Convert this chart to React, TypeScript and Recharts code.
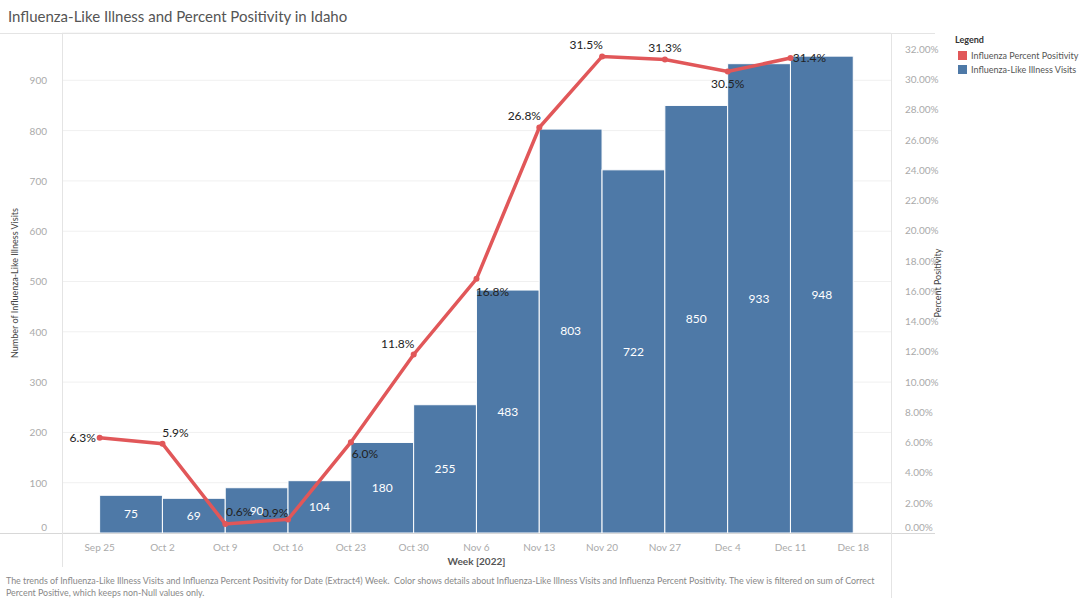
import React from "react";
import {
  ComposedChart,
  Bar,
  Line,
  XAxis,
  YAxis,
  CartesianGrid,
  LabelList,
} from "recharts";

// week start dates (tick labels), one more than the number of weekly bars
const weeks = [
  "Sep 25", "Oct 2", "Oct 9", "Oct 16", "Oct 23", "Oct 30", "Nov 6",
  "Nov 13", "Nov 20", "Nov 27", "Dec 4", "Dec 11", "Dec 18",
];

// ILI visits per week (bars drawn between week ticks)
const visits = [75, 69, 90, 104, 180, 255, 483, 803, 722, 850, 933, 948];

// influenza percent positivity at each week tick
const positivity = [6.3, 5.9, 0.6, 0.9, 6.0, 11.8, 16.8, 26.8, 31.5, 31.3, 30.5, 31.4];

const visitTicks = [0, 100, 200, 300, 400, 500, 600, 700, 800, 900];
const pctTicks = [0, 2, 4, 6, 8, 10, 12, 14, 16, 18, 20, 22, 24, 26, 28, 30, 32];

const BLUE = "#4e79a7";
const RED = "#e15759";
const FONT = "Lato, 'Open Sans', sans-serif";

const W = 1081;
const H = 598;
const MARGIN = { top: 33, right: 130, bottom: 35, left: 0 };
const LEFT_AXIS_W = 62;
const RIGHT_AXIS_W = 60;
const X_MIN = -0.6;
const X_MAX = 12.6;
const PLOT_W = W - MARGIN.left - MARGIN.right - LEFT_AXIS_W - RIGHT_AXIS_W;
// one week of the x scale, in pixels
const WEEK_PX = PLOT_W / (X_MAX - X_MIN);

// bars sit halfway between the week ticks
const barRows = visits.map((v, i) => ({ x: i + 0.5, visits: v }));
const lineRows = positivity.map((p, i) => ({ x: i, pct: p }));

// where each percent label sits relative to its point, so they don't collide
const labelNudge: [number, number][] = [
  [-17, 0], [13, -11], [14, -12], [-13, -7], [14, 11], [-16, -11],
  [16, 13], [-15, -12], [-16, -12], [0, -12], [0, 12], [19, 0],
];

// full-week bar, centred on the position Recharts computed
// eslint-disable-next-line @typescript-eslint/no-explicit-any
function WeekBar(props: any) {
  const { x, y, width, height } = props;
  const cx = x + width / 2;
  return (
    <rect
      x={cx - WEEK_PX / 2}
      y={y}
      width={WEEK_PX}
      height={height}
      fill={BLUE}
      stroke="#fff"
      strokeWidth={1}
    />
  );
}

// eslint-disable-next-line @typescript-eslint/no-explicit-any
function PctDot(props: any) {
  const { cx, cy, payload } = props;
  if (payload?.pct == null || cx == null || cy == null) return <g key={`d-${props.index}`} />;
  const [dx, dy] = labelNudge[payload.x] ?? [0, -12];
  return (
    <g key={`d-${props.index}`}>
      <circle cx={cx} cy={cy} r={3} fill={RED} />
      <text
        x={cx + dx}
        y={cy + dy}
        textAnchor="middle"
        dominantBaseline="central"
        fontSize={12}
        fill="#222"
        fontFamily={FONT}
      >
        {payload.pct.toFixed(1)}%
      </text>
    </g>
  );
}

// eslint-disable-next-line @typescript-eslint/no-explicit-any
function LeftTick({ x, y, payload }: any) {
  const lift = payload.value === 0 ? -6 : 0;
  return (
    <text x={x - 7} y={y + lift} textAnchor="end" dominantBaseline="central" fontSize={10} fill="#aaa" fontFamily={FONT}>
      {payload.value}
    </text>
  );
}

// eslint-disable-next-line @typescript-eslint/no-explicit-any
function RightTick({ x, y, payload }: any) {
  const lift = payload.value === 0 ? -6 : 0;
  return (
    <text x={x + 6} y={y + lift} textAnchor="start" dominantBaseline="central" fontSize={10} fill="#aaa" fontFamily={FONT}>
      {payload.value.toFixed(2)}%
    </text>
  );
}

// eslint-disable-next-line @typescript-eslint/no-explicit-any
function WeekTick({ x, y, payload }: any) {
  return (
    <text x={x} y={y + 6} textAnchor="middle" dominantBaseline="central" fontSize={10} fill="#aaa" fontFamily={FONT}>
      {weeks[payload.value]}
    </text>
  );
}

const line = (style: React.CSSProperties) => (
  <div style={{ position: "absolute", background: "#e4e4e4", ...style }} />
);

export default function App() {
  return (
    <div
      style={{
        position: "absolute",
        left: 0,
        top: 0,
        width: W,
        height: H,
        background: "#fff",
        fontFamily: FONT,
        overflow: "hidden",
      }}
    >
      <div style={{ position: "absolute", left: 8, top: 7, fontSize: 15, color: "#555" }}>
        Influenza-Like Illness and Percent Positivity in Idaho
      </div>

      <div style={{ position: "absolute", left: 0, top: 0 }}>
        <ComposedChart width={W} height={H} data={barRows} margin={MARGIN}>
          <CartesianGrid yAxisId="left" vertical={false} stroke="#f0f0f0" />
          <XAxis
            dataKey="x"
            type="number"
            domain={[X_MIN, X_MAX]}
            ticks={weeks.map((_, i) => i)}
            interval={0}
            height={30}
            axisLine={false}
            tickLine={false}
            tick={<WeekTick />}
          />
          <YAxis
            yAxisId="left"
            orientation="left"
            width={LEFT_AXIS_W}
            domain={[0, 994]}
            ticks={visitTicks}
            axisLine={false}
            tickLine={false}
            tick={<LeftTick />}
            label={{
              value: "Number of Influenza-Like Illness Visits",
              angle: -90,
              position: "insideLeft",
              offset: 15,
              style: { textAnchor: "middle", fontSize: 9, fill: "#444", fontFamily: FONT },
            }}
          />
          <YAxis
            yAxisId="right"
            orientation="right"
            width={RIGHT_AXIS_W}
            domain={[0, 33.05]}
            ticks={pctTicks}
            axisLine={false}
            tickLine={false}
            tick={<RightTick />}
            label={{
              value: "Percent Positivity",
              angle: -90,
              position: "insideRight",
              offset: 13,
              style: { textAnchor: "middle", fontSize: 9, fill: "#444", fontFamily: FONT },
            }}
          />
          <Bar
            yAxisId="left"
            dataKey="visits"
            fill={BLUE}
            shape={<WeekBar />}
            isAnimationActive={false}
          >
            <LabelList dataKey="visits" position="center" fill="#fff" fontSize={12} fontFamily={FONT} />
          </Bar>
          <Line
            yAxisId="right"
            data={lineRows}
            dataKey="pct"
            type="linear"
            stroke={RED}
            strokeWidth={3.5}
            dot={<PctDot />}
            activeDot={false}
            isAnimationActive={false}
          />
        </ComposedChart>
      </div>

      {/* pane frame */}
      {line({ left: 0, top: 33, width: 935, height: 1 })}
      {line({ left: 0, top: 533, width: 935, height: 1, background: "#d8d8d8" })}
      {line({ left: 62, top: 33, width: 1, height: 534 })}
      {line({ left: 891, top: 33, width: 1, height: 565 })}

      <div
        style={{
          position: "absolute",
          left: 62,
          width: 829,
          top: 555,
          textAlign: "center",
          fontSize: 10,
          fontWeight: 700,
          color: "#555",
        }}
      >
        Week [2022]
      </div>

      <div style={{ position: "absolute", left: 955, top: 34, fontSize: 9, color: "#333" }}>
        <div style={{ fontWeight: 700, marginBottom: 3 }}>Legend</div>
        {[
          { name: "Influenza Percent Positivity", color: RED },
          { name: "Influenza-Like Illness Visits", color: BLUE },
        ].map((item) => (
          <div key={item.name} style={{ display: "flex", alignItems: "center", gap: 4, height: 14, color: "#555" }}>
            <span style={{ width: 9, height: 9, background: item.color, display: "inline-block", marginLeft: 3 }} />
            <span>{item.name}</span>
          </div>
        ))}
      </div>

      <div
        style={{
          position: "absolute",
          left: 6,
          top: 575,
          width: 950,
          fontSize: 8.9,
          lineHeight: "12px",
          color: "#888",
          whiteSpace: "nowrap",
        }}
      >
        The trends of Influenza-Like Illness Visits and Influenza Percent Positivity for Date (Extract4) Week.&nbsp; Color shows details about
        Influenza-Like Illness Visits and Influenza Percent Positivity. The view is filtered on sum of Correct
        <br />
        Percent Positive, which keeps non-Null values only.
      </div>
    </div>
  );
}
